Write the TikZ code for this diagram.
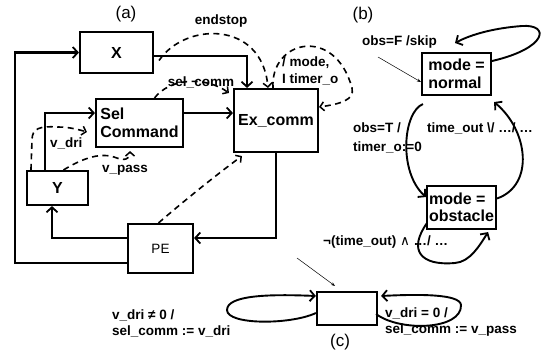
\documentclass[tikz,border=0pt]{standalone}
\usepackage{fontspec}
\setmainfont{Liberation Sans}
\newfontfamily\symfont{DejaVu Sans}
\usetikzlibrary{arrows.meta,calc}
\begin{document}
\begin{tikzpicture}[x=1pt,y=-1pt,
 box/.style={draw,line width=2.1pt,inner sep=0pt,font=\bfseries\fontsize{16}{17.5}\selectfont},
 conn/.style={line width=2.1pt,-{Straight Barb[length=5pt,width=11pt,line width=1.8pt]}},
 dconn/.style={line width=1.6pt,dash pattern=on 6pt off 4.5pt,-{Straight Barb[length=4pt,width=9pt,line width=1.5pt]}},
 curv/.style={line width=1.9pt,-{Straight Barb[length=5pt,width=11pt,line width=1.8pt]}},
 lbl/.style={font=\bfseries\fontsize{13.5}{16}\selectfont,inner sep=0pt},
 capt/.style={font=\fontsize{17}{19}\selectfont,inner sep=0pt},
 thinarr/.style={line width=0.5pt,-{Stealth[length=4pt,width=3pt]}},
]
\fill[white] (0,0) rectangle (543,354);
\useasboundingbox (0,0) rectangle (543,354);

% ---------- (a)
\node[capt] (capa) at (126,14) {(a)};
\node[box,minimum width=73pt,minimum height=41pt] (X) at (116.5,52.5) {X};
\node[box,minimum width=87pt,minimum height=48pt,align=left] (Sel) at (139.5,123) {Sel\\Command};
\node[box,minimum width=84pt,minimum height=63pt] (Ex) at (276,120.5) {Ex\_comm};
\node[box,minimum width=61pt,minimum height=34pt] (Y) at (57.5,188) {Y};
\node[box,minimum width=65pt,minimum height=49pt,font=\fontsize{13.5}{16}\selectfont] (PE) at (160.5,248.5) {PE};

\draw[conn] (PE.west |- 0,263) -- (15,263) |- (X.west);
\draw[conn] (PE.west |- 0,238) -| ([xshift=-5.5pt]Y.south);
\draw[conn] (Ex.south) |- ([yshift=10.5pt]PE.east);
\draw[conn] (X.east |- 0,56) -| ([xshift=-29pt]Ex.north);
\draw[conn] (Sel.east |- 0,113) -- (Ex.west |- 0,113);
\draw[conn] (Y.north -| 45,0) |- (Sel.west |- 0,113);

\node[lbl] (lend) at (221,21) {endstop};
\node[lbl] (lsel) at (201,82) {sel\_comm};
\node[lbl,anchor=west] (lvdri) at (50,143) {v\_dri};
\node[lbl,anchor=west] (lvpass) at (102,170) {v\_pass};
\node[lbl,anchor=west] (lmode) at (282,63) {/ mode,};
\node[lbl,anchor=west] (ltimer) at (282,79) {I timer\_o};

\draw[dconn] ([xshift=5pt,yshift=-8pt]X.east) .. controls (185,22) and (262,20) .. ([xshift=-8pt]Ex.north);
\draw[dconn] ([xshift=15pt]Sel.north) .. controls (170,78) and (205,76) .. ([xshift=-4pt,yshift=-5pt]Ex.north west);
\draw[dconn] ([xshift=-3pt]Ex.north) .. controls (270,40) and (335,25) .. (352,88) .. controls (355,100) and (340,104) .. (Ex.east |- 0,107);
\draw[dconn] ([xshift=5pt]Y.north west) -- (32,140) .. controls (32,128) and (40,126) .. (58,127) .. controls (70,127) and (80,130) .. ($(Sel.west |- 0,132)+(-8,0)$);
\draw[dconn] ([xshift=6pt]Y.north) .. controls (80,160) and (98,152) .. (114,157) .. controls (124,161) and (130,160) .. ([xshift=-9.5pt,yshift=-3pt]Sel.south);
\draw[dconn] ([xshift=-2pt]PE.north) .. controls (185,200) and (220,172) .. ([xshift=9pt,yshift=-3pt]Ex.south west);

% ---------- (b)
\node[capt] (capb) at (363,15) {(b)};
\node[box,minimum width=69pt,minimum height=42pt,align=left] (Nor) at (456.5,74) {mode =\\normal};
\node[box,minimum width=69pt,minimum height=43pt,align=left] (Obs) at (461.5,207.5) {mode =\\obstacle};

\node[lbl,anchor=west] (lobsf) at (362,42) {obs=F /skip};
\node[lbl,anchor=west] (lobst) at (353,128) {obs=T /};
\node[lbl,anchor=west] (ltimo) at (353,147) {timer\_o:=0};
\node[lbl,anchor=west] (ltout) at (427,128) {time\_out \textbackslash/ …/ …};
\node[lbl,anchor=west] (lnot) at (323,242) {¬(time\_out) {\symfont\mdseries ∧} …/ …};

\coordinate (tb) at (378,57);
\draw[thinarr] (tb) -- ([yshift=-8pt]Nor.west);
\draw[curv] ([yshift=13pt]Nor.east) .. controls (548,48) and (550,24) .. (522,26) .. controls (495,28) and (472,34) .. (455,43);
\draw[curv] ([xshift=2pt,yshift=-8pt]Nor.south west) .. controls (403,112) and (398,172) .. ([yshift=10.5pt]Obs.west);
\draw[curv] ([yshift=9pt]Obs.east) .. controls (535,185) and (528,130) .. ([xshift=2pt,yshift=-6pt]Nor.south east);
\draw[curv] ([xshift=1pt,yshift=7pt]Obs.south west) .. controls (408,250) and (420,266) .. (455,263) .. controls (470,262) and (480,245) .. ([xshift=-9pt,yshift=-2pt]Obs.south east);

% ---------- (c)
\node[capt] (capc) at (340,342) {(c)};
\node[box,minimum width=60pt,minimum height=33pt] (C) at (347,308.5) {};
\coordinate (tc) at (297,258);
\draw[thinarr] (tc) -- ([xshift=-12pt,yshift=5pt]C.north);
\draw[curv] ([yshift=-4.5pt]C.west) .. controls (290,325) and (227,325) .. (227,310) .. controls (227,295) and (270,294) .. ([yshift=12.5pt]C.west);
\draw[curv] ([xshift=-2pt,yshift=-5.5pt]C.east) .. controls (400,332) and (462,330) .. (461,305) .. controls (460,294) and (420,294) .. ([xshift=3pt,yshift=12.5pt]C.east);

\node[lbl,anchor=west,align=left] (lc1) at (112,323.5) {v\_dri ≠ 0 /\\sel\_comm := v\_dri};
\node[lbl,anchor=west,align=left] (lc2) at (385,322.5) {v\_dri = 0 /\\sel\_comm := v\_pass};
\end{tikzpicture}
\end{document}
